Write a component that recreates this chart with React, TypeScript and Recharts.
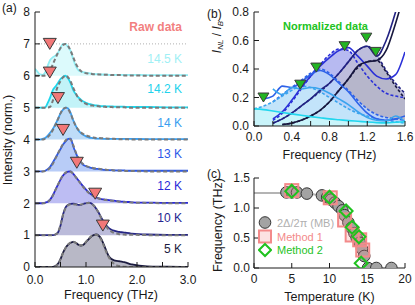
import React from "react";
import {
  Area,
  ComposedChart,
  Line,
  ReferenceLine,
  Scatter,
  XAxis,
  YAxis,
} from "recharts";

const FONT = '"Liberation Sans", Arial, Helvetica, sans-serif';
const AXIS = "#1a1a1a";

// ---------- (a) raw spectra, stacked one unit apart ----------
const freqA = [
  0, 0.05, 0.1, 0.15, 0.2, 0.25, 0.3, 0.35, 0.4, 0.45, 0.5, 0.55, 0.6, 0.65,
  0.7, 0.75, 0.8, 0.85, 0.9, 0.95, 1.0, 1.05, 1.1, 1.15, 1.2, 1.25, 1.3, 1.35,
  1.4, 1.45, 1.5, 1.55, 1.6, 1.65, 1.7, 1.75, 1.8, 1.85, 1.9, 2.2, 2.6, 3.0,
];

const raw5K = [
  0, 0, 0, 0, 0, 0, 0, 0, 0.03, 0.1, 0.25, 0.45, 0.6, 0.7, 0.76, 0.79, 0.76,
  0.7, 0.67, 0.7, 0.78, 0.87, 0.95, 1.0, 1.02, 0.98, 0.88, 0.7, 0.5, 0.33, 0.25,
  0.21, 0.19, 0.18, 0.17, 0.15, 0.13, 0.1, 0.08, 0.02, 0.01, 0,
];
const fit5K = [
  0, 0, 0, 0, 0, 0, 0, 0, 0.02, 0.09, 0.24, 0.44, 0.6, 0.71, 0.77, 0.79, 0.76,
  0.71, 0.68, 0.71, 0.79, 0.88, 0.96, 1.0, 1.01, 0.96, 0.85, 0.66, 0.46, 0.3,
  0.18, 0.1, 0.05, 0.03, 0.02, 0.01, 0.01, 0, 0, 0, 0, 0,
];
const raw10K = [
  0, 0, 0, 0, 0, 0, 0, 0, 0.02, 0.08, 0.3, 0.65, 0.87, 0.95, 0.98, 0.99, 0.97,
  0.95, 0.95, 0.98, 1.0, 1.02, 1.0, 0.93, 0.83, 0.7, 0.55, 0.42, 0.3, 0.22,
  0.17, 0.14, 0.12, 0.1, 0.09, 0.08, 0.07, 0.06, 0.05, 0.02, 0.01, 0.01,
];
const fit10K = [
  0, 0, 0, 0, 0, 0, 0, 0, 0.02, 0.09, 0.32, 0.64, 0.85, 0.94, 0.97, 0.97, 0.96,
  0.95, 0.96, 0.98, 1.0, 1.01, 0.99, 0.93, 0.83, 0.69, 0.53, 0.38, 0.26, 0.17,
  0.11, 0.07, 0.05, 0.03, 0.02, 0.02, 0.01, 0.01, 0.01, 0, 0, 0,
];
const raw12K = [
  0, 0, 0, 0, 0.02, 0.05, 0.12, 0.25, 0.42, 0.58, 0.74, 0.87, 0.95, 0.99, 1.0,
  0.92, 0.82, 0.72, 0.62, 0.52, 0.43, 0.35, 0.28, 0.22, 0.18, 0.15, 0.13, 0.12,
  0.11, 0.1, 0.09, 0.08, 0.07, 0.06, 0.05, 0.05, 0.04, 0.04, 0.03, 0.02, 0.01,
  0.01,
];
const fit12K = [
  0, 0, 0, 0, 0.01, 0.04, 0.11, 0.24, 0.41, 0.58, 0.75, 0.88, 0.96, 1.0, 0.99,
  0.92, 0.82, 0.71, 0.6, 0.5, 0.41, 0.33, 0.27, 0.22, 0.18, 0.15, 0.13, 0.11,
  0.1, 0.09, 0.08, 0.07, 0.06, 0.05, 0.04, 0.03, 0.03, 0.02, 0.02, 0.01, 0, 0,
];
const raw13K = [
  0, 0, 0, 0, 0.02, 0.07, 0.15, 0.28, 0.42, 0.56, 0.7, 0.84, 0.94, 1.02, 1.03,
  0.78, 0.58, 0.4, 0.28, 0.2, 0.16, 0.13, 0.11, 0.09, 0.08, 0.07, 0.06, 0.05,
  0.04, 0.04, 0.04, 0.03, 0.03, 0.03, 0.03, 0.03, 0.02, 0.02, 0.02, 0.02, 0.02,
  0.02,
];
const fit13K = [
  0, 0, 0, 0, 0.01, 0.05, 0.12, 0.24, 0.4, 0.56, 0.72, 0.86, 0.97, 1.03, 1.0,
  0.82, 0.6, 0.42, 0.3, 0.22, 0.17, 0.14, 0.12, 0.1, 0.09, 0.08, 0.07, 0.06,
  0.05, 0.04, 0.04, 0.03, 0.03, 0.02, 0.02, 0.02, 0.01, 0.01, 0.01, 0, 0, 0,
];
const raw14K = [
  0, 0, 0, 0.02, 0.05, 0.12, 0.22, 0.33, 0.48, 0.64, 0.82, 0.94, 1.0, 0.97,
  0.83, 0.6, 0.43, 0.29, 0.2, 0.14, 0.1, 0.07, 0.05, 0.04, 0.03, 0.03, 0.03,
  0.02, 0.02, 0.02, 0.02, 0.02, 0.02, 0.02, 0.02, 0.02, 0.02, 0.02, 0.02, 0.01,
  0.01, 0.01,
];
const fit14K = [
  0, 0, 0, 0, 0.03, 0.08, 0.16, 0.3, 0.46, 0.64, 0.82, 0.95, 1.0, 0.95, 0.8,
  0.6, 0.42, 0.3, 0.22, 0.17, 0.13, 0.1, 0.08, 0.06, 0.05, 0.045, 0.04, 0.035,
  0.03, 0.025, 0.02, 0.02, 0.015, 0.01, 0.01, 0.01, 0.01, 0, 0, 0, 0, 0,
];
const raw142K = [
  0, 0, 0, 0, 0.01, 0.15, 0.33, 0.55, 0.66, 0.77, 0.9, 0.97, 1.0, 0.91, 0.76,
  0.55, 0.42, 0.32, 0.25, 0.19, 0.15, 0.12, 0.1, 0.08, 0.07, 0.06, 0.05, 0.05,
  0.04, 0.04, 0.04, 0.03, 0.03, 0.03, 0.03, 0.03, 0.02, 0.02, 0.02, 0.02, 0.01,
  0.01,
];
const fit142K = [
  0, 0, 0, 0, 0, 0, 0.03, 0.22, 0.45, 0.68, 0.83, 0.95, 1.0, 0.95, 0.82, 0.62,
  0.45, 0.3, 0.22, 0.16, 0.12, 0.09, 0.07, 0.06, 0.05, 0.04, 0.03, 0.03, 0.02,
  0.02, 0.02, 0.01, 0.01, 0.01, 0.01, 0.01, 0, 0, 0, 0, 0, 0,
];
const raw145K = [
  0.22, 0.12, 0.04, 0.03, 0.1, 0.32, 0.5, 0.58, 0.63, 0.72, 0.88, 1.0, 0.99,
  0.9, 0.78, 0.52, 0.3, 0.18, 0.13, 0.11, 0.1, 0.08, 0.07, 0.06, 0.05, 0.05,
  0.04, 0.04, 0.04, 0.03, 0.03, 0.03, 0.03, 0.03, 0.03, 0.03, 0.03, 0.03, 0.03,
  0.02, 0.02, 0.02,
];
const fit145K = [
  0, 0, 0, 0, 0.01, 0.06, 0.18, 0.36, 0.55, 0.72, 0.87, 0.97, 1.0, 0.93, 0.78,
  0.58, 0.38, 0.24, 0.15, 0.1, 0.08, 0.07, 0.06, 0.05, 0.05, 0.04, 0.04, 0.03,
  0.03, 0.03, 0.02, 0.02, 0.02, 0.02, 0.02, 0.01, 0.01, 0.01, 0.01, 0, 0, 0,
];

// 2Δ markers in (a): frequency and height on the stacked axis
const gapFreqA = [1.33, 1.18, 0.82, 0.55, 0.45, 0.29, 0.29];
const gapMarkA = [1.3, 2.3, 3.27, 4.3, 5.3, 6.1, 7.0];

const tempLabelsA = ["14.5 K", "14.2 K", "14 K", "13 K", "12 K", "10 K", "5 K"];

// top to bottom; fills are drawn in this order so lower traces sit on top
const seriesA = [
  { id: "145", offset: 6, raw: raw145K, fit: fit145K, line: "#8fedf3", fill: "#dcfafc", text: "#9ff0f5", y: 59 },
  { id: "142", offset: 5, raw: raw142K, fit: fit142K, line: "#1fd6ec", fill: "#c2f3f8", text: "#22d2ec", y: 89 },
  { id: "14", offset: 4, raw: raw14K, fit: fit14K, line: "#3a9ef0", fill: "#bedcf8", text: "#3a9ef0", y: 122.5 },
  { id: "13", offset: 3, raw: raw13K, fit: fit13K, line: "#2c58e8", fill: "#b8ccf7", text: "#2c58e8", y: 154 },
  { id: "12", offset: 2, raw: raw12K, fit: fit12K, line: "#2a2ad8", fill: "#bdbdf3", text: "#2a2ad8", y: 186 },
  { id: "10", offset: 1, raw: raw10K, fit: fit10K, line: "#262684", fill: "#bbbbda", text: "#262690", y: 217.5 },
  { id: "5", offset: 0, raw: raw5K, fit: fit5K, line: "#1b1b40", fill: "#b8b8c6", text: "#1b1b40", y: 249 },
];

const rowsA = freqA.map((f, i) => {
  const row: Record<string, number> = { f };
  for (const s of seriesA) {
    row["r" + s.id] = s.offset + s.raw[i];
    row["d" + s.id] = s.offset + s.fit[i];
  }
  return row;
});
const markersA = gapFreqA.map((f, i) => ({ f, y: gapMarkA[i] }));

// ---------- (b) normalized spectra I_NL / I_B ----------
const freqB = [0, 0.1, 0.2, 0.3, 0.4, 0.5, 0.6, 0.7, 0.8, 0.9, 1.0, 1.1, 1.2, 1.3, 1.4, 1.5, 1.6];

const nb142K = [0.12, 0.115, 0.105, 0.095, 0.085, 0.075, 0.066, 0.058, 0.05, 0.044, 0.038, 0.033, 0.028, 0.024, 0.022, 0.026, 0.03];
const nb14K = [null, null, 0.26, 0.22, 0.27, 0.26, 0.27, 0.26, 0.23, 0.19, 0.15, 0.1, 0.06, 0.04, 0.035, 0.07, 0.03];
const nb14KFit = [0.12, 0.14, 0.17, 0.21, 0.25, 0.28, 0.27, 0.24, 0.2, 0.16, 0.12, 0.09, 0.07, 0.05, 0.04, 0.03, 0.02];
const nb13K = [null, 0.19, 0.21, 0.28, 0.27, 0.31, 0.36, 0.39, 0.36, 0.3, 0.24, 0.16, 0.09, 0.05, 0.04, 0.05, 0.07];
const nb13KFit = [null, null, 0.17, 0.22, 0.27, 0.32, 0.37, 0.4, 0.37, 0.31, 0.25, 0.18, 0.12, 0.08, 0.06, 0.05, 0.04];
const nb12K = [null, null, 0.05, 0.1, 0.18, 0.27, 0.35, 0.42, 0.48, 0.53, 0.55, 0.49, 0.42, 0.35, 0.33, 0.36, 0.52];
const nb12KFit = [null, null, 0.04, 0.09, 0.17, 0.26, 0.35, 0.43, 0.5, 0.54, 0.53, 0.44, 0.35, 0.28, 0.23, 0.21, 0.2];
const nb10K = [null, null, 0.02, 0.05, 0.09, 0.14, 0.19, 0.25, 0.3, 0.37, 0.45, 0.53, 0.56, 0.49, 0.6, 0.8, 1.05];
const nb10KFit = [null, null, 0.02, 0.05, 0.09, 0.14, 0.19, 0.24, 0.3, 0.37, 0.45, 0.53, 0.56, 0.5, 0.39, 0.3, 0.23];
const nb5K = [null, null, null, 0.01, 0.02, 0.04, 0.07, 0.11, 0.17, 0.25, 0.33, 0.42, 0.45, 0.46, 0.53, 0.72, 0.95];
const nb5KFit = [null, null, null, 0.01, 0.02, 0.04, 0.07, 0.11, 0.17, 0.25, 0.33, 0.41, 0.45, 0.46, 0.38, 0.28, 0.19];

const gapFreqB = [0.1, 0.49, 0.66, 0.96, 1.19, 1.29];
const gapMarkB = [0.2, 0.29, 0.41, 0.56, 0.62, 0.52];

// fill order back to front
const seriesB = [
  { id: "12", raw: nb12K, fit: nb12KFit, line: "#2a30d8", fill: "#b7baf1" },
  { id: "10", raw: nb10K, fit: nb10KFit, line: "#222282", fill: "#bdbddc" },
  { id: "5", raw: nb5K, fit: nb5KFit, line: "#17173e", fill: "#b6b6cb" },
  { id: "13", raw: nb13K, fit: nb13KFit, line: "#2e62e8", fill: "#b9d2f8" },
  { id: "14", raw: nb14K, fit: nb14KFit, line: "#3aa4ee", fill: "#c3e4fa" },
  { id: "142", raw: nb142K, fit: null, line: "#22d6ee", fill: "#c9f4fa" },
];

const rowsB = freqB.map((f, i) => {
  const row: Record<string, number | null> = { f };
  for (const s of seriesB) {
    row["r" + s.id] = s.raw[i];
    if (s.fit) row["d" + s.id] = s.fit[i];
  }
  return row;
});
const markersB = gapFreqB.map((f, i) => ({ f, y: gapMarkB[i] }));

// ---------- (c) gap vs temperature ----------
const bcsT = [0, 2, 4, 6, 7, 8, 9, 10, 11, 11.5, 12, 12.5, 13, 13.5, 14, 14.3, 14.6, 14.8];
const bcsGap = [1.25, 1.25, 1.25, 1.245, 1.24, 1.225, 1.2, 1.15, 1.06, 0.99, 0.9, 0.8, 0.67, 0.55, 0.42, 0.32, 0.18, 0];

const mbT = [4.3, 5.0, 5.7, 7.0, 9.0, 9.7, 10.2, 10.7, 11.2, 11.7, 12.0, 12.5, 12.9, 13.3, 13.6, 14.0, 14.3, 14.6, 15.1, 16.2, 18.2];
const mbGap = [1.26, 1.26, 1.26, 1.24, 1.21, 1.18, 1.14, 1.09, 1.03, 0.96, 0.88, 0.76, 0.67, 0.58, 0.5, 0.42, 0.32, 0.2, 0, 0, 0];

const m1T = [5, 10.1, 12, 13, 14, 14.4];
const m1Gap = [1.29, 1.17, 0.8, 0.55, 0.47, 0.3];

const m2T = [5, 10, 12.2, 13, 13.9, 14.2];
const m2Gap = [1.28, 1.18, 0.95, 0.68, 0.52, 0.08];

const rowsC = bcsT.map((t, i) => ({ t, gap: bcsGap[i] }));
const mbPts = mbT.map((t, i) => ({ t, gap: mbGap[i] }));
const m1Pts = m1T.map((t, i) => ({ t, gap: m1Gap[i] }));
const m2Pts = m2T.map((t, i) => ({ t, gap: m2Gap[i] }));

// ---------- shared axis bits ----------
const tickFont = { fontSize: 12, fill: "#1a1a1a", fontFamily: FONT };

function TriDown({ cx, cy, color, w, h }: any) {
  return (
    <polygon
      points={`${cx - w},${cy - h} ${cx + w},${cy - h} ${cx},${cy + h}`}
      fill={color}
      stroke="#3a3a3a"
      strokeWidth={1}
    />
  );
}

function PanelA() {
  return (
    <ComposedChart
      width={200}
      height={305}
      data={rowsA}
      margin={{ top: 12, right: 12, bottom: 0, left: 0 }}
    >
      <XAxis
        dataKey="f"
        type="number"
        domain={[0, 3]}
        ticks={[0, 0.5, 1, 1.5, 2, 2.5, 3]}
        interval={0}
        allowDataOverflow
        tickFormatter={(v: number) => (v % 1 === 0 ? v.toFixed(1) : "")}
        tickSize={-5}
        tickMargin={13}
        height={38}
        stroke={AXIS}
        tick={tickFont}
      />
      <XAxis
        xAxisId="t"
        orientation="top"
        type="number"
        domain={[0, 3]}
        ticks={[0, 0.5, 1, 1.5, 2, 2.5, 3]}
        interval={0}
        allowDataOverflow
        mirror
        height={0}
        tickSize={5}
        tick={false}
        stroke={AXIS}
      />
      <YAxis
        type="number"
        domain={[0, 8]}
        ticks={[0, 1, 2, 3, 4, 5, 6, 7, 8]}
        interval={0}
        allowDataOverflow
        tickSize={-5}
        tickMargin={10}
        width={35}
        stroke={AXIS}
        tick={tickFont}
      />
      <YAxis
        yAxisId="r"
        orientation="right"
        type="number"
        domain={[0, 8]}
        ticks={[0, 1, 2, 3, 4, 5, 6, 7, 8]}
        interval={0}
        allowDataOverflow
        mirror
        width={0}
        tickSize={5}
        tick={false}
        stroke={AXIS}
      />
      <ReferenceLine y={7} stroke="#b0b0b0" strokeDasharray="1 2" />
      {seriesA.map((s) => (
        <Area
          key={"a" + s.id}
          dataKey={"r" + s.id}
          type="monotone"
          baseValue={s.offset}
          stroke="none"
          fill={s.fill}
          fillOpacity={1}
          isAnimationActive={false}
        />
      ))}
      {seriesA.map((s) => (
        <Line
          key={"l" + s.id}
          dataKey={"r" + s.id}
          type="monotone"
          stroke={s.line}
          strokeWidth={1.8}
          dot={false}
          activeDot={false}
          isAnimationActive={false}
        />
      ))}
      {seriesA.map((s) => (
        <Line
          key={"d" + s.id}
          dataKey={"d" + s.id}
          type="monotone"
          stroke="#7a7a7a"
          strokeWidth={2}
          strokeDasharray="4 2.5"
          dot={false}
          activeDot={false}
          isAnimationActive={false}
        />
      ))}
      <Scatter
        data={markersA}
        dataKey="y"
        isAnimationActive={false}
        shape={(p: any) => <TriDown cx={p.cx} cy={p.cy} w={6.5} h={5.5} color="#f27878" />}
      />
    </ComposedChart>
  );
}

function PanelB() {
  return (
    <ComposedChart
      width={210}
      height={165}
      data={rowsB}
      margin={{ top: 12, right: 10, bottom: 0, left: 0 }}
    >
      <XAxis
        dataKey="f"
        type="number"
        domain={[0, 1.6]}
        ticks={[0, 0.2, 0.4, 0.6, 0.8, 1.0, 1.2, 1.4, 1.6]}
        interval={0}
        allowDataOverflow
        tickFormatter={(v: number) => (Math.round(v * 10) % 4 === 0 ? v.toFixed(1) : "")}
        tickSize={-5}
        tickMargin={11}
        height={39}
        stroke={AXIS}
        tick={tickFont}
      />
      <XAxis
        xAxisId="t"
        orientation="top"
        type="number"
        domain={[0, 1.6]}
        ticks={[0, 0.2, 0.4, 0.6, 0.8, 1.0, 1.2, 1.4, 1.6]}
        interval={0}
        allowDataOverflow
        mirror
        height={0}
        tickSize={5}
        tick={false}
        stroke={AXIS}
      />
      <YAxis
        type="number"
        domain={[0, 0.8]}
        ticks={[0, 0.2, 0.4, 0.6, 0.8]}
        interval={0}
        allowDataOverflow
        tickFormatter={(v: number) => v.toFixed(1)}
        tickSize={-5}
        tickMargin={10}
        width={49}
        stroke={AXIS}
        tick={tickFont}
      />
      <YAxis
        yAxisId="r"
        orientation="right"
        type="number"
        domain={[0, 0.8]}
        ticks={[0, 0.2, 0.4, 0.6, 0.8]}
        interval={0}
        allowDataOverflow
        mirror
        width={0}
        tickSize={5}
        tick={false}
        stroke={AXIS}
      />
      {seriesB.map((s) => (
        <Area
          key={"a" + s.id}
          dataKey={(s.fit ? "d" : "r") + s.id}
          type="monotone"
          stroke="none"
          fill={s.fill}
          fillOpacity={1}
          isAnimationActive={false}
        />
      ))}
      {seriesB
        .filter((s) => s.fit)
        .map((s) => (
          <Line
            key={"d" + s.id}
            dataKey={"d" + s.id}
            type="monotone"
            stroke={s.line}
            strokeWidth={1.6}
            strokeDasharray="3 2"
            dot={false}
            activeDot={false}
            isAnimationActive={false}
          />
        ))}
      {seriesB.map((s) => (
        <Line
          key={"l" + s.id}
          dataKey={"r" + s.id}
          type="monotone"
          stroke={s.line}
          strokeWidth={1.6}
          dot={false}
          activeDot={false}
          isAnimationActive={false}
        />
      ))}
      <Scatter
        data={markersB}
        dataKey="y"
        isAnimationActive={false}
        shape={(p: any) => <TriDown cx={p.cx} cy={p.cy} w={5.5} h={4.5} color="#22b422" />}
      />
    </ComposedChart>
  );
}

function PanelC() {
  return (
    <ComposedChart
      width={210}
      height={140}
      data={rowsC}
      margin={{ top: 13, right: 10, bottom: 0, left: 0 }}
    >
      <XAxis
        dataKey="t"
        type="number"
        domain={[0, 20]}
        ticks={[0, 5, 10, 15, 20]}
        interval={0}
        allowDataOverflow
        tickSize={-5}
        tickMargin={11}
        height={37}
        stroke={AXIS}
        tick={tickFont}
      />
      <XAxis
        xAxisId="t"
        orientation="top"
        type="number"
        domain={[0, 20]}
        ticks={[0, 5, 10, 15, 20]}
        interval={0}
        allowDataOverflow
        mirror
        height={0}
        tickSize={5}
        tick={false}
        stroke={AXIS}
      />
      <YAxis
        type="number"
        domain={[0, 1.5]}
        ticks={[0, 0.5, 1, 1.5]}
        interval={0}
        allowDataOverflow
        tickFormatter={(v: number) => v.toFixed(1)}
        tickSize={-5}
        tickMargin={9}
        width={49}
        stroke={AXIS}
        tick={tickFont}
      />
      <YAxis
        yAxisId="r"
        orientation="right"
        type="number"
        domain={[0, 1.5]}
        ticks={[0, 0.5, 1, 1.5]}
        interval={0}
        allowDataOverflow
        mirror
        width={0}
        tickSize={5}
        tick={false}
        stroke={AXIS}
      />
      <Line
        dataKey="gap"
        type="monotone"
        stroke="#b4b4b4"
        strokeWidth={2}
        dot={false}
        activeDot={false}
        isAnimationActive={false}
      />
      <Scatter
        data={mbPts}
        dataKey="gap"
        isAnimationActive={false}
        shape={(p: any) => (
          <circle cx={p.cx} cy={p.cy} r={5.8} fill="#a3a3a3" stroke="#333" strokeWidth={1} />
        )}
      />
      <Scatter
        data={m1Pts}
        dataKey="gap"
        isAnimationActive={false}
        shape={(p: any) => (
          <rect
            x={p.cx - 6.5}
            y={p.cy - 6.5}
            width={13}
            height={13}
            fill="rgba(244,140,140,0.25)"
            stroke="#f38a8a"
            strokeWidth={2}
          />
        )}
      />
      <Scatter
        data={m2Pts}
        dataKey="gap"
        isAnimationActive={false}
        shape={(p: any) => (
          <polygon
            points={`${p.cx},${p.cy - 6.5} ${p.cx + 6.5},${p.cy} ${p.cx},${p.cy + 6.5} ${p.cx - 6.5},${p.cy}`}
            fill="none"
            stroke="#1fc21f"
            strokeWidth={2}
          />
        )}
      />
    </ComposedChart>
  );
}

function Txt({ x, y, anchor = "start", color = "#1a1a1a", size = 12, weight = 400, children }: any) {
  const tx = anchor === "end" ? "-100%" : anchor === "middle" ? "-50%" : "0";
  return (
    <div
      style={{
        position: "absolute",
        left: x,
        top: y,
        transform: `translate(${tx}, -50%)`,
        whiteSpace: "nowrap",
        fontSize: size,
        fontWeight: weight,
        lineHeight: 1,
        color,
      }}
    >
      {children}
    </div>
  );
}

function VTxt({ x, y, size = 12.5, children }: any) {
  return (
    <div
      style={{
        position: "absolute",
        left: x,
        top: y,
        transform: "translate(-50%, -50%) rotate(-90deg)",
        whiteSpace: "nowrap",
        fontSize: size,
        lineHeight: 1,
        color: "#1a1a1a",
      }}
    >
      {children}
    </div>
  );
}

export default function App() {
  return (
    <div
      style={{
        position: "absolute",
        left: 0,
        top: 0,
        width: 415,
        height: 305,
        background: "#fff",
        fontFamily: FONT,
        overflow: "hidden",
      }}
    >
      <div style={{ position: "absolute", left: 0, top: 0 }}>
        <PanelA />
      </div>
      <div style={{ position: "absolute", left: 205, top: 0 }}>
        <PanelB />
      </div>
      <div style={{ position: "absolute", left: 205, top: 165 }}>
        <PanelC />
      </div>

      {/* panel (a) text */}
      <Txt x={2} y={8}>(a)</Txt>
      <Txt x={182} y={27} anchor="end" color="#f27f7f" weight={700}>
        Raw data
      </Txt>
      {seriesA.map((s, i) => (
        <Txt key={s.id} x={182} y={s.y} anchor="end" color={s.text}>
          {tempLabelsA[i]}
        </Txt>
      ))}
      <Txt x={111} y={295} anchor="middle" size={12.5}>
        Frequency (THz)
      </Txt>
      <VTxt x={8} y={140}>Intensity (norm.)</VTxt>

      {/* panel (b) text */}
      <Txt x={207} y={14}>(b)</Txt>
      <Txt x={283} y={25.5} color="#22c322" weight={700} size={11}>
        Normalized data
      </Txt>
      <VTxt x={218} y={37} size={12}>
        <i>I</i>
        <i style={{ fontSize: 8, verticalAlign: "-2px" }}>NL</i> / <i>I</i>
        <i style={{ fontSize: 8, verticalAlign: "-2px" }}>B</i>
      </VTxt>
      <Txt x={329.5} y={155} anchor="middle" size={12.5}>
        Frequency (THz)
      </Txt>

      {/* panel (c) text */}
      <Txt x={207} y={174}>(c)</Txt>
      <VTxt x={218} y={225}>Frequency (THz)</VTxt>
      <Txt x={329.5} y={297} anchor="middle" size={12.5}>
        Temperature (K)
      </Txt>

      {/* legend of (c) */}
      <svg width={14} height={44} style={{ position: "absolute", left: 258, top: 215 }}>
        <circle cx={7} cy={7.5} r={5.8} fill="#a3a3a3" stroke="#333" strokeWidth={1} />
        <rect x={1} y={15.5} width={12} height={12} fill="rgba(244,140,140,0.25)" stroke="#f38a8a" strokeWidth={2} />
        <polygon points="7,29 13,35 7,41 1,35" fill="none" stroke="#1fc21f" strokeWidth={2} />
      </svg>
      <Txt x={277} y={222.5} color="#b0b0b0" size={11}>2Δ/2π (MB)</Txt>
      <Txt x={277} y={236.5} color="#f38a8a" size={11}>Method 1</Txt>
      <Txt x={277} y={250} color="#1fc21f" size={11}>Method 2</Txt>
    </div>
  );
}
